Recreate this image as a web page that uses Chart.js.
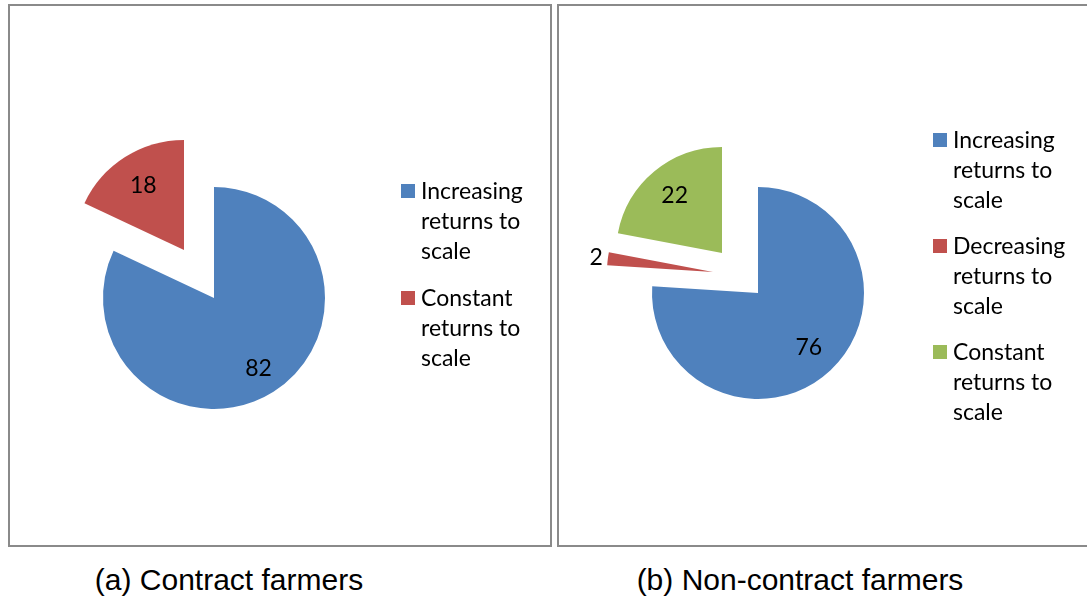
<!DOCTYPE html>
<html lang="en">
<head>
  <meta charset="UTF-8" />
  <title>Returns to scale - contract and non-contract farmers</title>
  <script src="https://cdn.jsdelivr.net/npm/chart.js"></script>
  <style>
    body { margin: 0; background: #fff; width: 1087px; height: 598px; overflow: hidden; position: relative; font-family: Lato, sans-serif; }
    .panel { position: absolute; box-sizing: border-box; border: 2px solid #8a8a8a; top: 4px; height: 543px; }
    .pie { position: absolute; }
    .legend { position: absolute; font-size: 23px; line-height: 30px; color: #000; }
    .legend-item { position: relative; padding-left: 20px; width: 130px; }
    .legend-item .box { position: absolute; left: 0; top: 9px; width: 14px; height: 14px; }
    .caption { position: absolute; top: 565px; font-family: "Liberation Sans", Arial, sans-serif; font-size: 30px; line-height: 30px; white-space: nowrap; transform: translateX(-50%); }
  </style>
</head>
<body>

  <div class="panel" style="left: 8px; width: 544px;"></div>
  <div class="panel" style="left: 557px; width: 540px;"></div>

  <!-- each pie: the main slice, then one canvas per pulled-out slice -->
  <canvas id="pieA" class="pie" width="400" height="400" style="left: 14px; top: 98px;"></canvas>
  <canvas id="pieA2" class="pie" width="400" height="400" style="left: -16px; top: 50px;"></canvas>
  <canvas id="pieB" class="pie" width="400" height="400" style="left: 558px; top: 93px;"></canvas>
  <canvas id="pieB2" class="pie" width="400" height="400" style="left: 513px; top: 72px;"></canvas>
  <canvas id="pieB3" class="pie" width="400" height="400" style="left: 522px; top: 53px;"></canvas>

  <div id="legendA" class="legend" style="left: 401px; top: 175px;"></div>
  <div id="legendB" class="legend" style="left: 933px; top: 124px;"></div>

  <div class="caption" style="left: 229px;">(a) Contract farmers</div>
  <div class="caption" style="left: 800px;">(b) Non-contract farmers</div>

  <script>
    // (a) contract farmers
    const categoriesA = ['Increasing returns to scale', 'Constant returns to scale'];
    const valuesA = [82, 18];

    // (b) non-contract farmers
    const categoriesB = ['Increasing returns to scale', 'Decreasing returns to scale', 'Constant returns to scale'];
    const valuesB = [76, 2, 22];

    const colorsA = ['#4F81BD', '#C0504D'];
    const colorsB = ['#4F81BD', '#C0504D', '#9BBB59'];

    // writes the value of the visible slice, dist is a fraction of the radius
    const sliceLabels = {
      id: 'sliceLabels',
      afterDatasetsDraw(chart, args, opts) {
        const ctx = chart.ctx;
        const values = chart.data.datasets[0].data;
        ctx.save();
        ctx.font = opts.font;
        ctx.fillStyle = '#000';
        ctx.textAlign = 'center';
        ctx.textBaseline = 'middle';
        chart.getDatasetMeta(0).data.forEach((arc, i) => {
          if (i !== opts.show) return;
          const p = arc.getProps(['x', 'y', 'startAngle', 'endAngle', 'outerRadius']);
          const mid = (p.startAngle + p.endAngle) / 2;
          const d = opts.dist * p.outerRadius;
          ctx.fillText(values[i], p.x + Math.cos(mid) * d, p.y + Math.sin(mid) * d);
        });
        ctx.restore();
      }
    };

    function desenharPizza(id, labels, values, colors, show, radius, dist) {
      new Chart(document.getElementById(id), {
        type: 'pie',
        data: {
          labels: labels,
          datasets: [{
            data: values,
            backgroundColor: colors.map((c, i) => i === show ? c : 'rgba(0,0,0,0)'),
            borderWidth: 0,
            radius: radius
          }]
        },
        options: {
          responsive: false,
          animation: false,
          layout: { padding: 0 },
          plugins: {
            legend: { display: false },
            tooltip: { enabled: false },
            sliceLabels: { font: '23px Lato', show: show, dist: dist }
          }
        },
        plugins: [sliceLabels]
      });
    }

    function montarLegenda(id, labels, colors, gap) {
      const container = document.getElementById(id);
      labels.forEach((label, i) => {
        const div = document.createElement('div');
        div.className = 'legend-item';
        if (i > 0) div.style.marginTop = gap + 'px';
        div.innerHTML = `<span class="box" style="background:${colors[i]}"></span>${label}`;
        container.appendChild(div);
      });
    }

    desenharPizza('pieA', categoriesA, valuesA, colorsA, 0, 111, 0.75);
    desenharPizza('pieA2', categoriesA, valuesA, colorsA, 1, 110, 0.69);

    desenharPizza('pieB', categoriesB, valuesB, colorsB, 0, 106, 0.70);
    desenharPizza('pieB2', categoriesB, valuesB, colorsB, 1, 106, 1.11);
    desenharPizza('pieB3', categoriesB, valuesB, colorsB, 2, 106, 0.70);

    montarLegenda('legendA', categoriesA, colorsA, 17);
    montarLegenda('legendB', categoriesB, colorsB, 16);
  </script>

</body>
</html>
